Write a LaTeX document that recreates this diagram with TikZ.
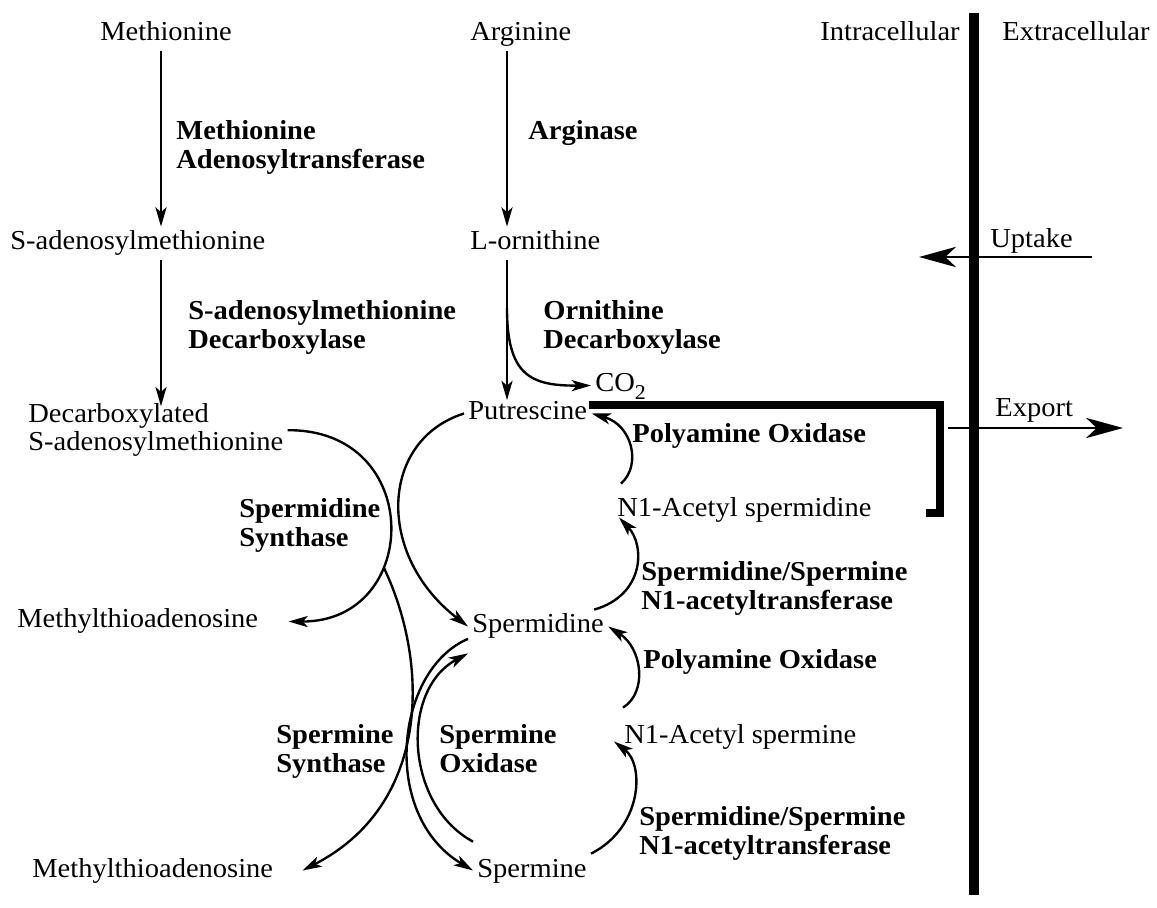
\documentclass[tikz,border=0pt]{standalone}
\usepackage{fontspec}
\setmainfont{Liberation Serif}[FakeStretch=1.04]
\usepackage{tikz}
\usetikzlibrary{arrows.meta}

\begin{document}
\begin{tikzpicture}[
    x=0.02cm, y=-0.02cm,
    every node/.style={font=\fontsize{15.6}{16}\selectfont},
    species/.style={inner sep=2.3pt, anchor=base west, text height=10.8pt, text depth=3.4pt},
    species2/.style={inner sep=2.3pt, anchor=north west, align=left},
    enzyme/.style={inner sep=0pt, anchor=north west, align=left, font=\fontsize{15.6}{16.3}\selectfont\bfseries},
    side/.style={inner sep=0pt, anchor=base west},
    rxn/.style={line width=1.35pt, -{Stealth[length=11pt, width=6.3pt, inset=2.8pt]}},
    transport/.style={line width=1.7pt, -{Stealth[length=21pt, width=11.5pt, inset=6pt]}},
    membrane/.style={line width=5.7pt},
    exportbar/.style={line width=5.1pt, line join=miter}
  ]
    \useasboundingbox (0,0) rectangle (1157,908);
    \node[species] (met) at (96,41) {Methionine};
    \node[species] (arg) at (466,41) {Arginine};
    \node[side, anchor=base east] (intra) at (960,41) {Intracellular};
    \node[side] (extra) at (1002,41) {Extracellular};
    \node[species] (sam) at (6,250) {S-adenosylmethionine};
    \node[species] (orn) at (466,250) {L-ornithine};
    \node[side] (upt) at (990,248) {Uptake};
    \node[species] (co2) at (591,392) {CO\raisebox{-4pt}{\fontsize{12}{12}\selectfont 2}};
    \node[species2] (dsam) at (24,399.3) {Decarboxylated\\S-adenosylmethionine};
    \node[species] (putr) at (464,420) {Putrescine};
    \node[side] (expo) at (995,417) {Export};
    \node[species] (an1sd) at (613,517) {N1-Acetyl spermidine};
    \node[species] (mta1) at (13,628) {Methylthioadenosine};
    \node[species] (spd) at (468,633) {Spermidine};
    \node[species] (an1sm) at (620,744) {N1-Acetyl spermine};
    \node[species] (mta2) at (28,877) {Methylthioadenosine};
    \node[species] (spm) at (473,877) {Spermine};
    \node[enzyme] (metat) at (176,120.5) {Methionine\\Adenosyltransferase};
    \node[enzyme] (argase) at (528,120.5) {Arginase};
    \node[enzyme] (samdc) at (188,300.5) {S-adenosylmethionine\\Decarboxylase};
    \node[enzyme] (odc) at (543,300.5) {Ornithine\\Decarboxylase};
    \node[enzyme] (pao1) at (632,423.5) {Polyamine Oxidase};
    \node[enzyme] (spdsyn) at (239,498.5) {Spermidine\\Synthase};
    \node[enzyme] (ssat1) at (641,561.5) {Spermidine/Spermine\\N1-acetyltransferase};
    \node[enzyme] (pao2) at (643,649.5) {Polyamine Oxidase};
    \node[enzyme] (spmsyn) at (276,724.5) {Spermine\\Synthase};
    \node[enzyme] (smox) at (439,724.5) {Spermine\\Oxidase};
    \node[enzyme] (ssat2) at (639,806.5) {Spermidine/Spermine\\N1-acetyltransferase};
    \coordinate (colL) at (161,0);
    \coordinate (colM) at (507,0);
    \coordinate (odcbr) at (507,308);
    \coordinate (spmbr) at (384,568);
    \coordinate (uptout) at (1092,257);
    \coordinate (uptin) at (919,257);
    \coordinate (expin) at (948,428);
    \coordinate (expout) at (1123,428);
    \draw[rxn] (met.south -| colL) -- (sam.north -| colL);
    \draw[rxn] (arg.south -| colM) -- (orn.north -| colM);
    \draw[rxn, shorten >=-4pt] (sam.south -| colL) -- (dsam.north -| colL);
    \draw[rxn, shorten >=-2pt] (orn.south -| colM) -- (putr.north -| colM);
    \draw[rxn] (odcbr) .. controls (507,375) and (530,386) .. (co2.west);
    \draw[rxn] (dsam.east) .. controls (425,429) and (422,622) .. ([shift={(26,0)}]mta1.east);
    \draw[rxn] (putr.west) .. controls (380,440) and (375,555) .. (spd.west);
    \draw[rxn] (spmbr) .. controls (430,665) and (430,805) .. ([shift={(25,0)}]mta2.east);
    \draw[rxn] (spd.190) .. controls (395,670) and (380,815) .. (spm.west);
    \draw[rxn] ([shift={(0,-12)}]spm.north west) .. controls (405,805) and (400,690) .. ([shift={(0,10)}]spd.south west);
    \draw[rxn] ([shift={(8,-10)}]an1sd.north west) .. controls (642,465) and (632,425) .. (putr.east);
    \draw[rxn] ([shift={(-14,0)}]spd.north east) .. controls (645,595) and (645,545) .. ([shift={(6,7)}]an1sd.west);
    \draw[rxn] ([shift={(3,-13)}]an1sm.north west) .. controls (648,692) and (642,648) .. (spd.east);
    \draw[rxn] (spm.north east) .. controls (642,828) and (645,765) .. ([shift={(-6,4)}]an1sm.west);
    \draw[membrane] (974,13) -- (974,895);
    \draw[exportbar] (589,405) -| (940,513) -- (926,513);
    \draw[transport] (uptout) -- (uptin);
    \draw[transport] (expin) -- (expout);
  \end{tikzpicture}
\end{document}
